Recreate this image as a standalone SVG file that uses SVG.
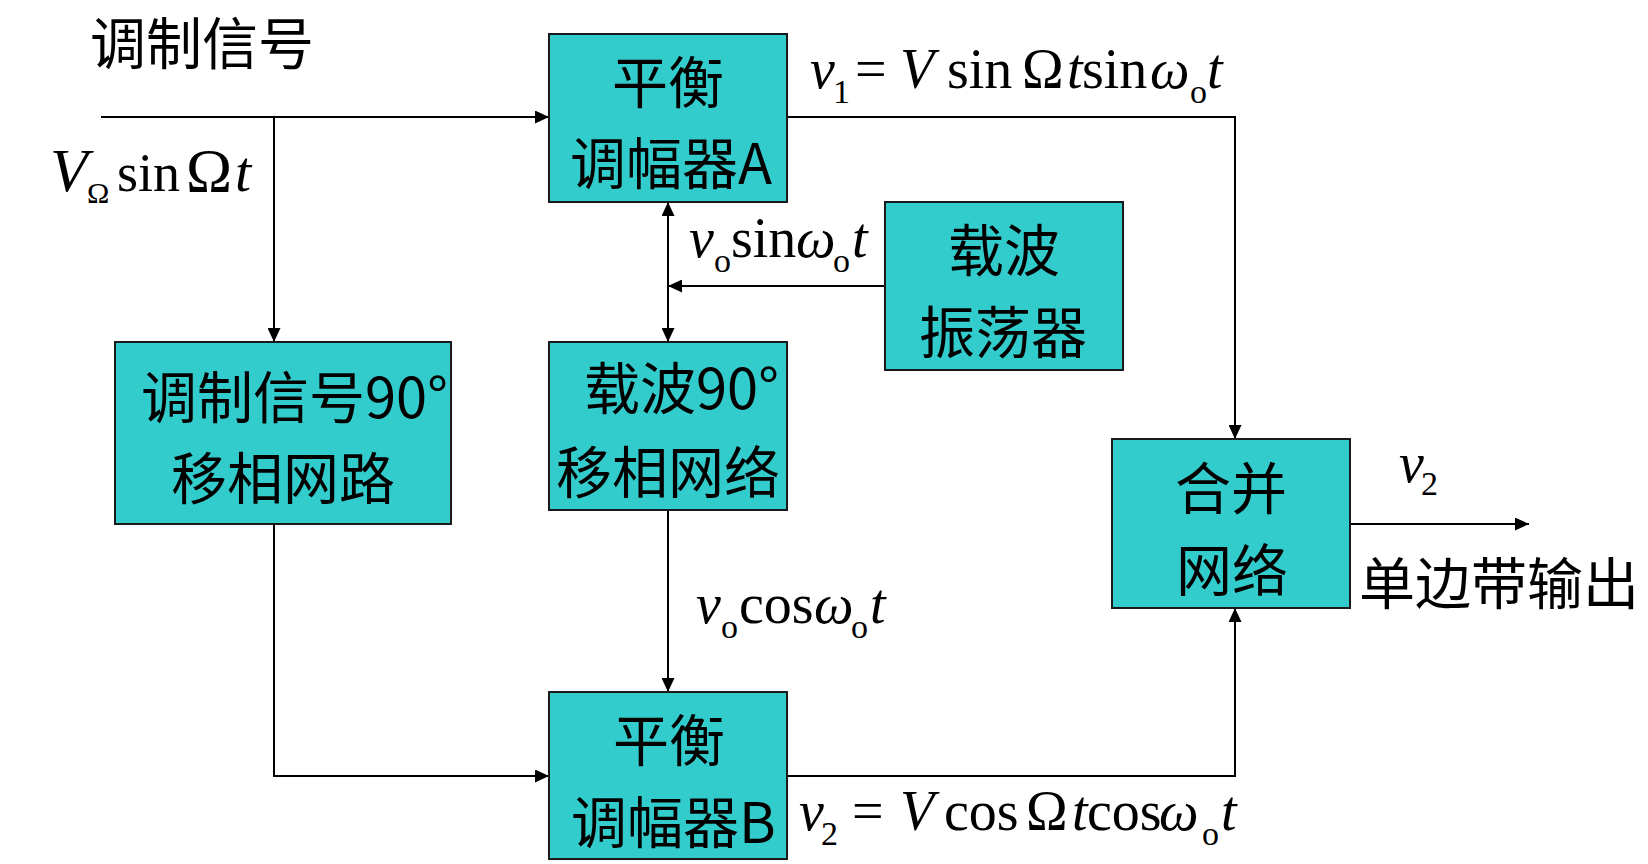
<svg xmlns="http://www.w3.org/2000/svg" width="1648" height="864" viewBox="0 0 1648 864">
  <style>
    .box { fill: #33CCCC; stroke: #1a1a1a; stroke-width: 2; }
    .cjk { font-family: "Noto Sans CJK SC", "Noto Sans", sans-serif; font-size: 56px; fill: #000; }
    .mid { text-anchor: middle; }
    .m { font-family: "Liberation Serif", "Times New Roman", serif; font-size: 56px; fill: #000; }
    .i { font-style: italic; }
    .s { font-size: 34px; }
    .conn { fill: none; stroke: #000; stroke-width: 2; }
  </style>
  <defs>
    <marker id="arr" viewBox="0 0 14 13" refX="14" refY="6.5" markerWidth="14" markerHeight="13" markerUnits="userSpaceOnUse" orient="auto-start-reverse">
      <path d="M0,0 L14,6.5 L0,13 z" fill="#000"/>
    </marker>
  </defs>
  <rect width="1648" height="864" fill="#fff"/>

  <g id="connectors">
    <polyline class="conn" points="101,117 549,117" marker-end="url(#arr)"/>
    <polyline class="conn" points="274,117 274,342" marker-end="url(#arr)"/>
    <polyline class="conn" points="787,117 1235,117 1235,439" marker-end="url(#arr)"/>
    <polyline class="conn" points="885,286 668,286" marker-end="url(#arr)"/>
    <polyline class="conn" points="668,202 668,342" marker-start="url(#arr)" marker-end="url(#arr)"/>
    <polyline class="conn" points="668,510 668,692" marker-end="url(#arr)"/>
    <polyline class="conn" points="274,524 274,776 549,776" marker-end="url(#arr)"/>
    <polyline class="conn" points="787,776 1235,776 1235,608" marker-end="url(#arr)"/>
    <polyline class="conn" points="1350,524 1529,524" marker-end="url(#arr)"/>
  </g>

  <g id="modA">
    <rect class="box" x="549" y="34" width="238" height="168"/>
    <text class="cjk mid" x="668" y="103">平衡</text>
    <text class="cjk" x="570" y="184">调幅器A</text>
  </g>
  <g id="oscillator">
    <rect class="box" x="885" y="202" width="238" height="168"/>
    <text class="cjk mid" x="1004" y="271">载波</text>
    <text class="cjk mid" x="1003" y="353">振荡器</text>
  </g>
  <g id="modShift">
    <rect class="box" x="115" y="342" width="336" height="182"/>
    <text class="cjk" x="141" y="418">调制信号90°</text>
    <text class="cjk mid" x="283" y="499">移相网路</text>
  </g>
  <g id="carrierShift">
    <rect class="box" x="549" y="342" width="238" height="168"/>
    <text class="cjk" x="584" y="409">载波90°</text>
    <text class="cjk mid" x="668" y="493">移相网络</text>
  </g>
  <g id="modB">
    <rect class="box" x="549" y="692" width="238" height="167"/>
    <text class="cjk mid" x="669" y="761">平衡</text>
    <text class="cjk" x="571" y="843">调幅器B</text>
  </g>
  <g id="combiner">
    <rect class="box" x="1112" y="439" width="238" height="169"/>
    <text class="cjk mid" x="1231" y="509">合并</text>
    <text class="cjk mid" x="1232" y="591">网络</text>
  </g>

  <g id="labels">
    <text class="cjk" x="90" y="64">调制信号</text>
    <text class="cjk" x="1359" y="604">单边带输出</text>

    <text class="m"><tspan class="i" x="50" y="191" style="font-size:62px">V</tspan><tspan x="87" y="203" style="font-size:30px">Ω</tspan><tspan x="117" y="191" style="font-size:54px">sin</tspan><tspan x="186" y="191" style="font-size:62px">Ω</tspan><tspan class="i" x="235" y="191" style="font-size:58px">t</tspan></text>

    <text class="m"><tspan class="i" x="810" y="88">v</tspan><tspan class="s" x="833" y="103">1</tspan><tspan x="855" y="88">=</tspan><tspan class="i" x="900" y="88">V</tspan><tspan x="947" y="88">sin</tspan><tspan x="1022" y="88">Ω</tspan><tspan class="i" x="1067" y="88">t</tspan><tspan x="1082" y="88">sin</tspan><tspan class="i" x="1150" y="88">ω</tspan><tspan class="s" x="1190" y="103">o</tspan><tspan class="i" x="1207" y="88">t</tspan></text>

    <text class="m"><tspan class="i" x="689" y="257">v</tspan><tspan class="s" x="714" y="272">o</tspan><tspan x="731" y="257">sin</tspan><tspan class="i" x="796" y="257">ω</tspan><tspan class="s" x="833" y="272">o</tspan><tspan class="i" x="852" y="257">t</tspan></text>

    <text class="m"><tspan class="i" x="696" y="623">v</tspan><tspan class="s" x="721" y="638">o</tspan><tspan x="739" y="623">cos</tspan><tspan class="i" x="814" y="623">ω</tspan><tspan class="s" x="851" y="638">o</tspan><tspan class="i" x="870" y="623">t</tspan></text>

    <text class="m"><tspan class="i" x="799" y="830">v</tspan><tspan class="s" x="821" y="845">2</tspan><tspan x="852" y="830">=</tspan><tspan class="i" x="900" y="830">V</tspan><tspan x="944" y="830">cos</tspan><tspan x="1026" y="830">Ω</tspan><tspan class="i" x="1072" y="830">t</tspan><tspan x="1087" y="830">cos</tspan><tspan class="i" x="1159" y="830">ω</tspan><tspan class="s" x="1202" y="845">o</tspan><tspan class="i" x="1221" y="830">t</tspan></text>

    <text class="m"><tspan class="i" x="1399" y="482">v</tspan><tspan class="s" x="1421" y="495">2</tspan></text>
  </g>
</svg>
